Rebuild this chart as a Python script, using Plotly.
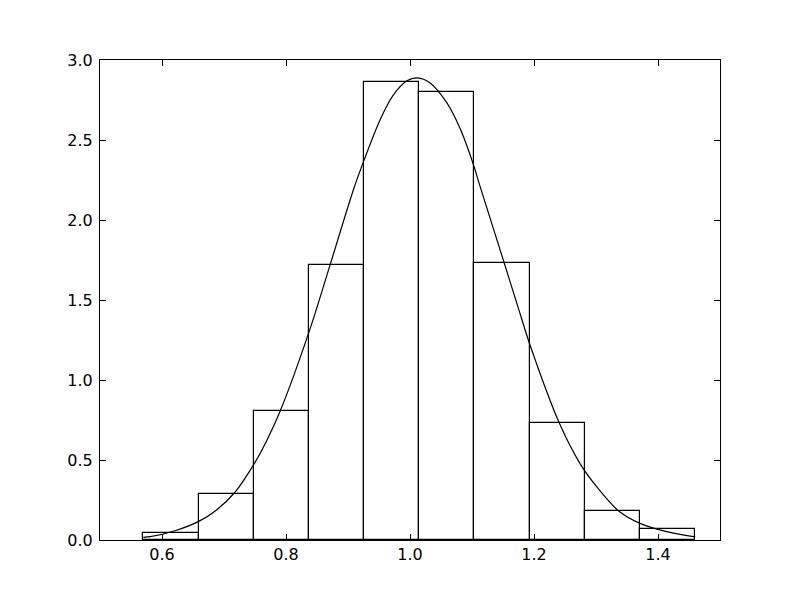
"""Histogram with fitted normal curve, matplotlib classic look."""

import plotly.graph_objects as go

# Histogram bin edges and normalised heights
bin_edges = [0.570, 0.659, 0.748, 0.837, 0.926, 1.015, 1.104, 1.193, 1.282, 1.371, 1.460]
bin_heights = [0.046, 0.290, 0.804, 1.719, 2.861, 2.798, 1.731, 0.729, 0.179, 0.067]

# Points
curve_x = [0.570, 0.581, 0.621, 0.660, 0.688, 0.718, 0.750, 0.769, 0.790, 0.838,
           0.871, 0.909, 0.927, 0.952, 0.973, 0.995, 1.012, 1.032, 1.059, 1.081,
           1.102, 1.113, 1.152, 1.175, 1.194, 1.241, 1.274, 1.301, 1.336, 1.371,
           1.414, 1.460]
curve_y = [0.017, 0.021, 0.058, 0.118, 0.188, 0.300, 0.485, 0.622, 0.800, 1.310,
           1.718, 2.192, 2.385, 2.628, 2.780, 2.870, 2.888, 2.858, 2.735, 2.570,
           2.350, 2.210, 1.731, 1.446, 1.214, 0.729, 0.479, 0.333, 0.183, 0.104,
           0.052, 0.019]

x_ticks = [0.6, 0.8, 1.0, 1.2, 1.4]
y_ticks = [0.0, 0.5, 1.0, 1.5, 2.0, 2.5, 3.0]

lefts = bin_edges[:-1]
widths = [b - a for a, b in zip(bin_edges[:-1], bin_edges[1:])]

fig = go.Figure()

fig.add_trace(go.Bar(
    x=lefts,
    y=bin_heights,
    width=widths,
    offset=0,
    marker=dict(color='white', line=dict(color='black', width=1.2)),
    hoverinfo='y'
))

fig.add_trace(go.Scatter(
    x=curve_x,
    y=curve_y,
    mode='lines',
    line=dict(color='black', width=1.2, shape='spline', smoothing=0.8),
))

axis_style = dict(
    showgrid=False,
    zeroline=False,
    showline=True,
    linecolor='black',
    linewidth=1,
    mirror='ticks',
    ticks='inside',
    ticklen=6,
    tickwidth=1,
    tickcolor='black',
    tickformat='.1f',
    tickfont=dict(family='DejaVu Sans', size=16, color='black'),
)

# the page body adds an 8px offset, so margins are shifted to compensate
fig.update_layout(
    width=800,
    height=600,
    margin=dict(l=92, r=88, t=52, b=68),
    paper_bgcolor='white',
    plot_bgcolor='white',
    showlegend=False,
    bargap=0,
    xaxis=dict(range=[0.5, 1.5], tickvals=x_ticks, ticklabelstandoff=0, **axis_style),
    yaxis=dict(range=[0, 3.0], tickvals=y_ticks, ticklabelstandoff=3, **axis_style),
)

fig.write_html("out.html")
